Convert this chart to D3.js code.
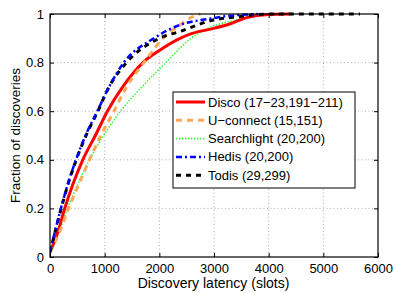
<!DOCTYPE html>
<html><head><meta charset="utf-8">
<script src="https://cdn.jsdelivr.net/npm/d3@7"></script>
<style>body{margin:0;background:#fff}svg{display:block;font-family:"Liberation Sans",Arial,sans-serif}</style>
</head><body><svg id="c" width="393" height="293"></svg>
<script>
const xTicks=[0,1000,2000,3000,4000,5000,6000];
const yTicks=[0,0.2,0.4,0.6,0.8,1];
const yTickLabels=["0","0.2","0.4","0.6","0.8","1"];
const seriesNames=["Disco (17\u221223,191\u2212211)","U\u2212connect (15,151)","Searchlight (20,200)","Hedis (20,200)","Todis (29,299)"];
const disco=[[0,0.02],[140,0.1],[270,0.2],[420,0.3],[600,0.4],[830,0.5],[1050,0.6],[1330,0.7],[1700,0.8],[2000,0.85],[2378,0.9],[2600,0.92],[2980,0.94],[3300,0.96],[3600,0.985],[4000,0.998],[4400,1]];
const uconnect=[[0,0.02],[170,0.1],[340,0.2],[530,0.3],[720,0.4],[930,0.5],[1170,0.6],[1400,0.7],[1720,0.8],[2067,0.9],[2380,0.955],[2620,0.99],[2750,1]];
const searchlight=[[0,0.02],[160,0.1],[320,0.2],[510,0.3],[720,0.4],[980,0.5],[1290,0.6],[1680,0.7],[2120,0.8],[2580,0.9],[2980,0.95],[3300,0.97],[3700,0.99],[4000,1]];
const hedis=[[0,0.02],[85,0.1],[200,0.2],[325,0.3],[475,0.4],[650,0.5],[865,0.6],[1080,0.7],[1350,0.8],[1900,0.9],[2378,0.955],[2900,0.98],[3400,0.995],[3800,1]];
const todis=[[0,0.02],[90,0.1],[205,0.2],[330,0.3],[480,0.4],[660,0.5],[875,0.6],[1080,0.7],[1400,0.8],[2000,0.9],[2378,0.928],[2980,0.975],[3500,0.99],[3800,0.998],[4200,1],[5670,1]];
const seriesData=[disco,uconnect,searchlight,hedis,todis];
const styles=[
 {c:"#ff0000",w:3,d:null},
 {c:"#ffa85a",w:3,d:"6,5"},
 {c:"#22ff22",w:1.6,d:"1.3,1.7"},
 {c:"#0000ff",w:2.5,d:"6,3,2,3"},
 {c:"#000000",w:3,d:"5,5"}
];
const svg=d3.select("#c");
const L=50,R=378,T=14,B=257;
const x=d3.scaleLinear().domain([0,6000]).range([L,R]);
const y=d3.scaleLinear().domain([0,1]).range([B,T]);
const g=svg.append("g");
g.selectAll(".gx").data(xTicks.slice(1,-1)).enter().append("line")
 .attr("x1",d=>x(d)).attr("x2",d=>x(d)).attr("y1",T).attr("y2",B)
 .attr("stroke","#999").attr("stroke-width",0.8).attr("stroke-dasharray","1,2.5");
g.selectAll(".gy").data(yTicks.slice(1,-1)).enter().append("line")
 .attr("y1",d=>y(d)).attr("y2",d=>y(d)).attr("x1",L).attr("x2",R)
 .attr("stroke","#999").attr("stroke-width",0.8).attr("stroke-dasharray","1,2.5");
const xa=svg.append("g").attr("transform",`translate(0,${B})`).call(d3.axisBottom(x).tickValues(xTicks).tickSize(-4).tickPadding(7).tickFormat(d3.format("d")));
const ya=svg.append("g").attr("transform",`translate(${L},0)`).call(d3.axisLeft(y).tickValues(yTicks).tickSize(-4).tickPadding(6).tickFormat((d,i)=>yTickLabels[i]));
const xa2=svg.append("g").attr("transform",`translate(0,${T})`).call(d3.axisTop(x).tickValues(xTicks).tickSize(-4).tickFormat(""));
const ya2=svg.append("g").attr("transform",`translate(${R},0)`).call(d3.axisRight(y).tickValues(yTicks).tickSize(-4).tickFormat(""));
[xa,ya,xa2,ya2].forEach(a=>{a.select(".domain").remove();a.selectAll("line").attr("stroke","#000");a.selectAll("text").attr("font-size",13).attr("fill","#000").attr("font-family","Liberation Sans, Arial, sans-serif");});
const line=d3.line().x(d=>x(d[0])).y(d=>y(d[1])).curve(d3.curveMonotoneX);
svg.append("clipPath").attr("id","cp").append("rect").attr("x",L).attr("y",T-2).attr("width",R-L).attr("height",B-T+2);
const order=[2,0,1,4,3];
order.forEach(i=>{
 svg.append("path").datum(seriesData[i]).attr("d",line).attr("fill","none")
  .attr("stroke",styles[i].c).attr("stroke-width",styles[i].w)
  .attr("stroke-dasharray",styles[i].d).attr("clip-path","url(#cp)");
});
svg.append("rect").attr("x",L).attr("y",T).attr("width",R-L).attr("height",B-T).attr("fill","none").attr("stroke","#000").attr("stroke-width",1.2);
svg.append("text").attr("x",(L+R)/2-0.5).attr("y",288).attr("text-anchor","middle").attr("font-size",14).text("Discovery latency (slots)");
svg.append("text").attr("transform",`translate(20,${(T+B)/2}) rotate(-90)`).attr("text-anchor","middle").attr("font-size",13.5).text("Fraction of discoveries");
const lg=svg.append("g");
lg.append("rect").attr("x",173).attr("y",92).attr("width",182).attr("height",96).attr("fill","#fff").attr("stroke","#000").attr("stroke-width",1);
seriesNames.forEach((n,i)=>{
 const yy=102+i*18.3;
 lg.append("line").attr("x1",176).attr("x2",205).attr("y1",yy).attr("y2",yy)
  .attr("stroke",styles[i].c).attr("stroke-width",styles[i].w).attr("stroke-dasharray",styles[i].d);
 lg.append("text").attr("x",208).attr("y",yy+4.5).attr("font-size",13).text(n);
});
</script></body></html>
